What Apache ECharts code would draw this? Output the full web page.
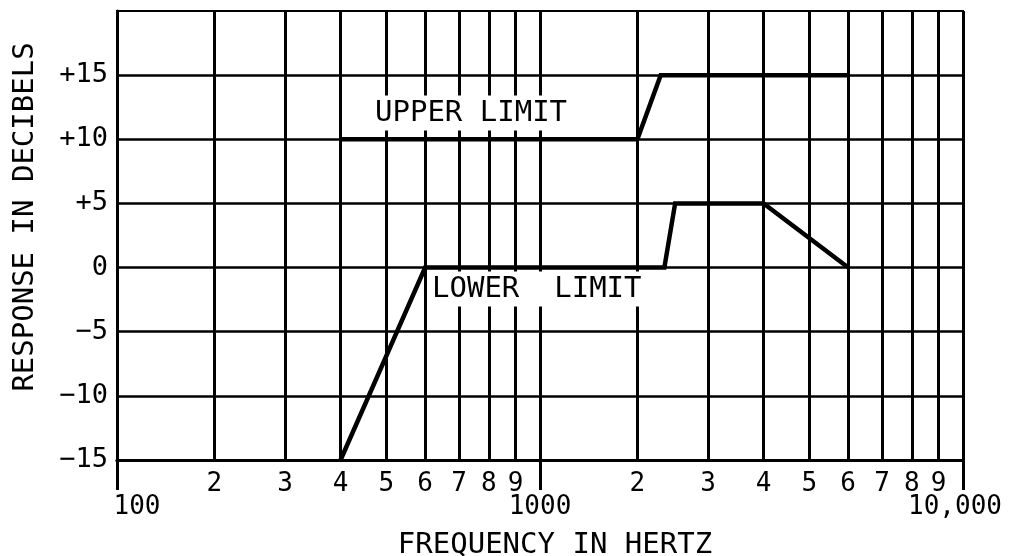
<!DOCTYPE html>
<html>
<head>
<meta charset="utf-8">
<script src="https://cdn.jsdelivr.net/npm/echarts@6/dist/echarts.min.js"></script>
<style>
  html, body { margin: 0; padding: 0; background: #fff; }
  #chart { width: 1011px; height: 556px; }
</style>
</head>
<body>
<div id="chart"></div>
<script>
// Response tolerance limits (frequency in Hz, response in dB)
const upperFreq = [400, 2000, 2300, 6000];
const upperDb   = [10, 10, 15, 15];
const lowerFreq = [400, 600, 2350, 2500, 4000, 6000];
const lowerDb   = [-15, 0, 0, 5, 5, 0];

// Frequency rulings of the chart paper and their labels
const gridFreqs = [100, 200, 300, 400, 500, 600, 700, 800, 900,
                   1000, 2000, 3000, 4000, 5000, 6000, 7000, 8000, 9000, 10000];
const decadeFreqs  = [100, 1000, 10000];
const decadeLabels = ['100', '1000', '10,000'];

// Response axis
const dbMin = -15, dbMax = 20, dbStep = 5;

const FONT = '"DejaVu Sans Mono", monospace';

// The paper keeps equal-width decades, but the divisions inside a decade
// are ruled on log10(m + K) instead of a pure log10(m).
const K = 1.2;
function freqToAxis(f) {
  const d = Math.floor(Math.log10(f) + 1e-9);
  const m = f / Math.pow(10, d);
  return (d - 2) + Math.log10((m + K) / (1 + K)) / Math.log10((10 + K) / (1 + K));
}

const gridPos   = gridFreqs.map(freqToAxis);
const decadePos = decadeFreqs.map(freqToAxis);
const minorPos  = gridFreqs.filter(f => decadeFreqs.indexOf(f) < 0).map(freqToAxis);

function nearestIndex(arr, v) {
  let best = 0;
  arr.forEach((x, i) => { if (Math.abs(x - v) < Math.abs(arr[best] - v)) best = i; });
  return best;
}

function dbLabel(v) {
  if (v === dbMax) return '';
  if (v > 0) return '+' + v;
  if (v < 0) return '\u2212' + (-v);
  return '0';
}

const chart = echarts.init(document.getElementById('chart'), null, { renderer: 'canvas' });

chart.setOption({
  animation: false,
  backgroundColor: '#fff',
  grid: {
    left: 117, right: 48, top: 11, bottom: 96,
    show: true, borderColor: '#000', borderWidth: 2
  },
  xAxis: [
    {
      type: 'value', min: 0, max: 2, position: 'bottom',
      axisLine: { show: true, onZero: false, lineStyle: { color: '#000', width: 3 } },
      axisTick: { show: false, customValues: gridPos },
      splitLine: { show: true, lineStyle: { color: '#000', width: 3 } },
      axisLabel: {
        customValues: minorPos,
        margin: 11,
        color: '#000', fontFamily: FONT, fontSize: 26,
        formatter: function (v) {
          const f = gridFreqs[nearestIndex(gridPos, v)];
          return String(Math.round(f / Math.pow(10, Math.floor(Math.log10(f) + 1e-9))));
        }
      }
    },
    {
      type: 'value', min: 0, max: 2, position: 'bottom',
      axisLine: { show: true, onZero: false, lineStyle: { color: '#000', width: 3 } },
      axisTick: { show: true, inside: false, customValues: decadePos, length: 30,
                  lineStyle: { color: '#000', width: 3 } },
      splitLine: { show: false },
      axisLabel: {
        customValues: decadePos,
        margin: 34,
        color: '#000', fontFamily: FONT, fontSize: 26,
        formatter: function (v) {
          const i = nearestIndex(decadePos, v);
          return '{d' + i + '|' + decadeLabels[i] + '}';
        },
        rich: {
          d0: { padding: [0, 0, 0, 40], fontFamily: FONT, fontSize: 26, color: '#000' },
          d1: { fontFamily: FONT, fontSize: 26, color: '#000' },
          d2: { padding: [0, 16, 0, 0], fontFamily: FONT, fontSize: 26, color: '#000' }
        }
      }
    }
  ],
  yAxis: {
    type: 'value', min: dbMin, max: dbMax, interval: dbStep,
    axisLine: { show: true, onZero: false, lineStyle: { color: '#000', width: 3 } },
    axisTick: { show: false },
    splitLine: { show: true, showMaxLine: false, lineStyle: { color: '#000', width: 2.5 } },
    axisLabel: {
      margin: 9, color: '#000', fontFamily: FONT, fontSize: 27,
      formatter: dbLabel
    }
  },
  series: [
    {
      name: 'UPPER LIMIT', type: 'line', xAxisIndex: 0,
      symbol: 'none', z: 5,
      lineStyle: { color: '#000', width: 4.5, join: 'miter' },
      data: upperFreq.map((f, i) => [freqToAxis(f), upperDb[i]])
    },
    {
      name: 'LOWER LIMIT', type: 'line', xAxisIndex: 0,
      symbol: 'none', z: 5,
      lineStyle: { color: '#000', width: 4.5, join: 'miter' },
      data: lowerFreq.map((f, i) => [freqToAxis(f), lowerDb[i]])
    }
  ],
  graphic: [
    {
      type: 'text', x: 25, y: 217, rotation: Math.PI / 2,
      style: { text: 'RESPONSE IN DECIBELS', fill: '#000', fontFamily: FONT, fontSize: 29,
               align: 'center', verticalAlign: 'middle' }
    },
    {
      type: 'text', x: 555, y: 545,
      style: { text: 'FREQUENCY IN HERTZ', fill: '#000', fontFamily: FONT, fontSize: 29,
               align: 'center', verticalAlign: 'middle' }
    },
    {
      type: 'text', x: 373, y: 113, z: 3,
      style: { text: 'UPPER LIMIT', fill: '#000', fontFamily: FONT, fontSize: 29,
               align: 'left', verticalAlign: 'middle', backgroundColor: '#fff', padding: [3, 2] }
    },
    {
      type: 'text', x: 430, y: 289, z: 3,
      style: { text: 'LOWER  LIMIT', fill: '#000', fontFamily: FONT, fontSize: 29,
               align: 'left', verticalAlign: 'middle', backgroundColor: '#fff', padding: [3, 2] }
    }
  ]
});
</script>
</body>
</html>
